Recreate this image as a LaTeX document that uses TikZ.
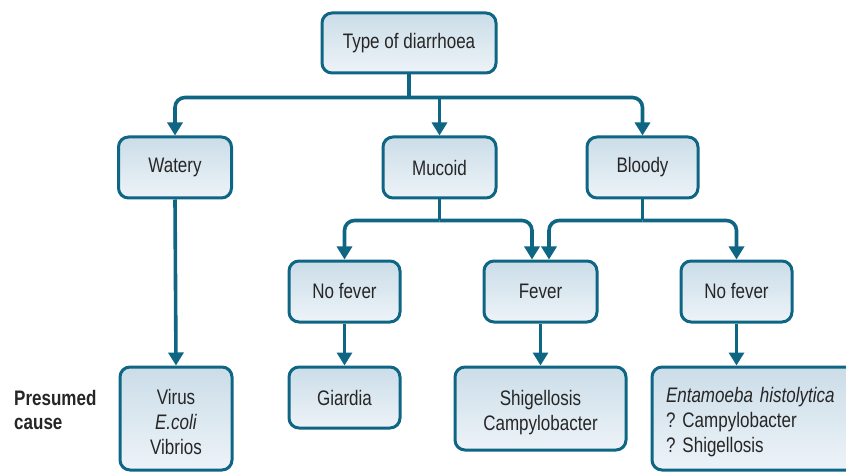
\documentclass[tikz,border=0pt]{standalone}
\usepackage{fontspec}
\setmainfont[FakeStretch=0.81]{Liberation Sans}
\usetikzlibrary{arrows.meta}
\definecolor{edge}{RGB}{14,102,132}
\definecolor{filltop}{RGB}{203,221,232}
\definecolor{fillbot}{RGB}{237,243,248}
\frenchspacing
\tikzset{
  box/.style={draw=edge, line width=3pt, rounded corners=10pt, top color=filltop, bottom color=fillbot,
    align=center, inner sep=0pt, font=\fontsize{21}{25}\selectfont\frenchspacing, text=black!85},
  conn/.style={draw=edge, line width=3.6pt, rounded corners=10pt},
  arr/.style={conn, -{Triangle[width=15pt,length=13pt]}},
}
\newcommand{\firstup}{\rule{0pt}{23pt}}
\begin{document}
\begin{tikzpicture}[x=1pt,y=-1pt]
\useasboundingbox (0,0) rectangle (846,473);
\clip (0,0) rectangle (846,473);
\node[box, minimum width=174pt, minimum height=60pt] (top) at (409,43) {Type of diarrhoea};
\node[box, minimum width=113pt, minimum height=61pt] (watery) at (175,167.5) {Watery};
\node[box, minimum width=113pt, minimum height=61pt] (mucoid) at (439.5,167.5) {Mucoid};
\node[box, minimum width=111pt, minimum height=61pt] (bloody) at (642.5,167.5) {Bloody};
\node[box, minimum width=111pt, minimum height=61pt] (nf1) at (344.5,291.5) {No fever};
\node[box, minimum width=113pt, minimum height=61pt] (fever) at (540.5,291.5) {Fever};
\node[box, minimum width=111pt, minimum height=61pt] (nf2) at (736.5,291.5) {No fever};
\node[box, minimum width=112pt, minimum height=103pt] (virus) at (176,418.5) {\firstup Virus\\\textit{E.coli}\\Vibrios};
\node[box, minimum width=111pt, minimum height=61pt] (giardia) at (344.5,397.5) {Giardia};
\node[box, minimum width=171pt, minimum height=83pt] (shig) at (540.5,408.5) {\firstup Shigellosis\\Campylobacter};
\node[box, minimum width=210pt, minimum height=103pt, align=left, text width=182pt, inner xsep=14pt] (ent) at (757,418.5) {\firstup\textit{Entamoeba histolytica}\\? Campylobacter\\? Shigellosis};
\node[anchor=west, align=left, inner sep=0pt, font=\fontsize{21}{24}\selectfont\bfseries, text=black!85] (pc) at (14,410) {Presumed\\cause};
% level 1
\draw[conn] (top.south) -- ++(0,23) coordinate (j1);
\draw[arr] (j1) -| (watery.north);
\draw[arr] (j1) -| (bloody.north);
\draw[arr] (j1 -| mucoid.north) -- (mucoid.north);
% level 2
\draw[conn] (mucoid.south) -- ++(0,21) coordinate (j2);
\draw[arr] (j2) -| (nf1.north);
\draw[arr] (j2) -| ([xshift=-8.5pt]fever.north);
\draw[conn] (bloody.south) -- ++(0,21) coordinate (j3);
\draw[arr] (j3) -| ([xshift=8.5pt]fever.north);
\draw[arr] (j3) -| (nf2.north);
% level 3
\draw[arr] (watery.south) -- (virus.north);
\draw[arr] (nf1.south) -- (giardia.north);
\draw[arr] (fever.south) -- (shig.north);
\draw[arr] (nf2.south) -- (nf2.south |- ent.north);
\end{tikzpicture}
\end{document}
